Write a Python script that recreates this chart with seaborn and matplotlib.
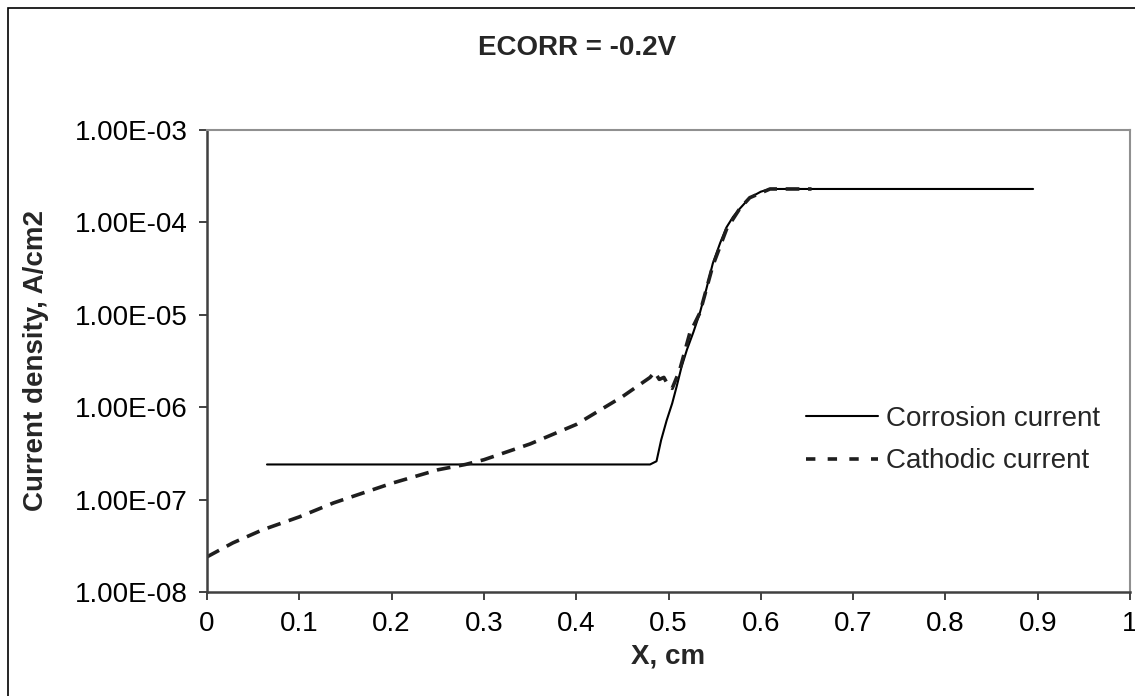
import numpy as np
import pandas as pd
import seaborn as sns
import matplotlib
matplotlib.use("Agg")
import matplotlib.pyplot as plt
from matplotlib.ticker import FixedLocator, FuncFormatter, NullLocator
from matplotlib.patches import Rectangle

# Corrosion current density along the surface
corr_x = [0.065, 0.48, 0.487, 0.492, 0.498, 0.504, 0.509, 0.514, 0.520, 0.527,
          0.534, 0.541, 0.548, 0.556, 0.563, 0.570, 0.577, 0.588, 0.600, 0.610, 0.895]
corr_y = [2.4e-7, 2.4e-7, 2.6e-7, 4.4e-7, 7.2e-7, 1.1e-6, 1.7e-6, 2.7e-6, 4.2e-6, 6.5e-6,
          1.05e-5, 1.9e-5, 3.6e-5, 6.0e-5, 8.9e-5, 1.15e-4, 1.4e-4, 1.85e-4, 2.15e-4, 2.3e-4, 2.3e-4]

# Cathodic current density along the surface
cath_x = [0.0, 0.028, 0.06, 0.10, 0.137, 0.20, 0.25, 0.28, 0.30, 0.35, 0.40, 0.45,
          0.48, 0.485, 0.49, 0.495, 0.50, 0.504, 0.512, 0.523, 0.534, 0.548,
          0.563, 0.577, 0.588, 0.61, 0.655]
cath_y = [2.4e-8, 3.4e-8, 4.7e-8, 6.5e-8, 9.2e-8, 1.5e-7, 2.1e-7, 2.4e-7, 2.7e-7, 4.0e-7,
          6.5e-7, 1.3e-6, 2.1e-6, 2.4e-6, 2.0e-6, 2.1e-6, 1.7e-6, 1.6e-6, 2.5e-6, 6.3e-6,
          1.05e-5, 3.4e-5, 8.5e-5, 1.4e-4, 1.85e-4, 2.3e-4, 2.3e-4]

x_ticks = [0, 0.1, 0.2, 0.3, 0.4, 0.5, 0.6, 0.7, 0.8, 0.9, 1]
y_ticks = [1e-8, 1e-7, 1e-6, 1e-5, 1e-4, 1e-3]

title = "ECORR = -0.2V"
x_label = "X, cm"
y_label = "Current density, A/cm2"
series_names = ["Corrosion current", "Cathodic current"]

sns.set_theme(style="white")
plt.rcParams["font.family"] = ["Liberation Sans", "DejaVu Sans"]

W, H = 1135, 696
fig = plt.figure(figsize=(W / 100, H / 100), dpi=100)
ax = fig.add_axes([207 / W, (H - 592) / H, (1130 - 207) / W, (592 - 130) / H])

sns.lineplot(x=corr_x, y=corr_y, ax=ax, color="black", linewidth=1.5,
             sort=False, estimator=None, label=series_names[0])
sns.lineplot(x=cath_x, y=cath_y, ax=ax, color="#1e1e1e", linewidth=2.6,
             sort=False, estimator=None, label=series_names[1])
ax.lines[1].set_dashes([3.8, 2.4])

ax.set_yscale("log")
ax.set_xlim(0, 1)
ax.set_ylim(1e-8, 1e-3)
ax.xaxis.set_major_locator(FixedLocator(x_ticks))
ax.xaxis.set_major_formatter(FuncFormatter(lambda v, p: f"{v:g}"))
ax.yaxis.set_major_locator(FixedLocator(y_ticks))
ax.yaxis.set_major_formatter(FuncFormatter(lambda v, p: f"{v:.2E}"))
ax.yaxis.set_minor_locator(NullLocator())
ax.tick_params(axis="both", which="major", direction="out", length=6, width=1.3,
               color="#333333", labelsize=20, labelcolor="black", pad=8,
               bottom=True, left=True)

for side in ["left", "bottom"]:
    ax.spines[side].set_color("#404040")
    ax.spines[side].set_linewidth(1.8)
for side in ["top", "right"]:
    ax.spines[side].set_color("#909090")
    ax.spines[side].set_linewidth(1.5)

ax.set_xlabel(x_label, fontsize=20, fontweight="bold", labelpad=4)
ax.set_ylabel(y_label, fontsize=20, fontweight="bold")
ax.yaxis.set_label_coords(-(207 - 49) / (1130 - 207), 0.5)
fig.text(577 / W, (H - 48) / H, title, fontsize=20, fontweight="bold",
         ha="center", va="center")

leg = ax.legend(loc="center left", bbox_to_anchor=(792 / W, (H - 440) / H),
                bbox_transform=fig.transFigure, frameon=False, fontsize=20,
                handlelength=2.6, handletextpad=0.3, borderpad=0, labelspacing=0.6)
leg.get_lines()[1].set_dashes([2.6, 3.4])

# Outer chart-area border
fig.patches.append(Rectangle((8 / W, -0.1), 1.2, (H - 8) / H + 0.1,
                             transform=fig.transFigure, fill=False,
                             edgecolor="black", linewidth=1.2))

fig.savefig("out.png", dpi=100)
